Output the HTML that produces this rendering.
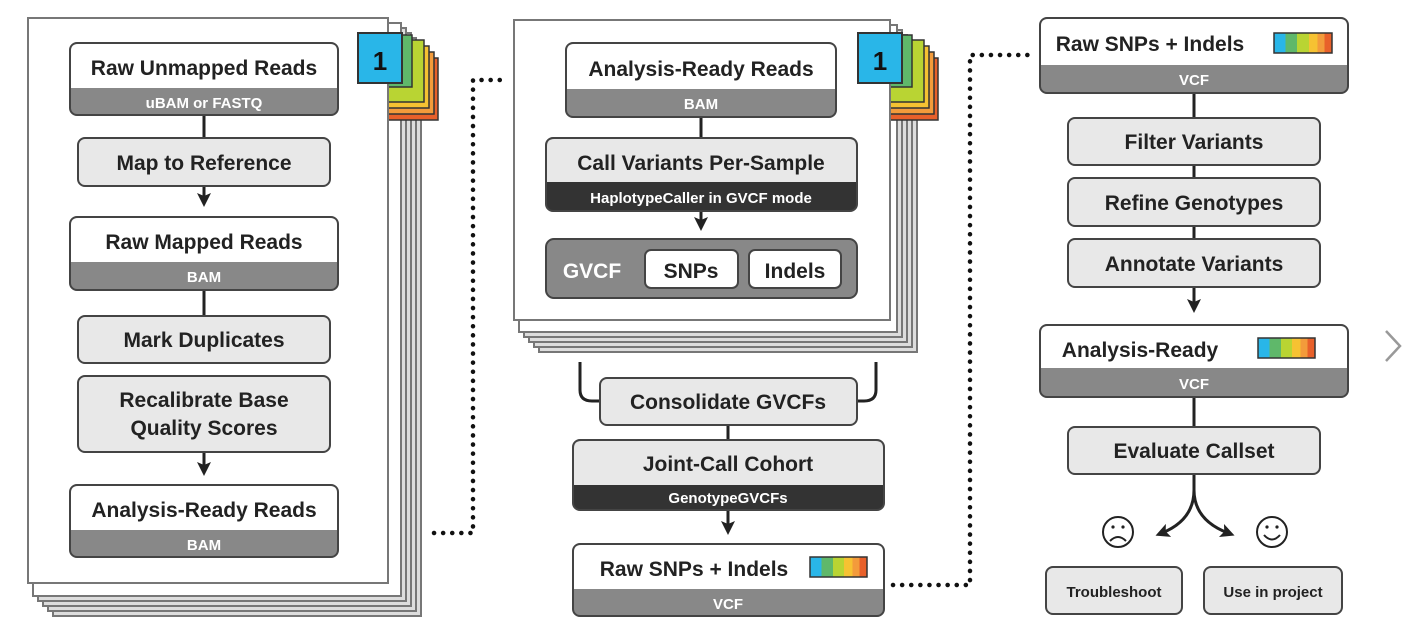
<!DOCTYPE html>
<html><head><meta charset="utf-8"><style>
html,body{margin:0;padding:0;background:#fff;}
svg text{font-family:"Liberation Sans","DejaVu Sans",sans-serif;font-weight:bold;text-anchor:middle;}
</style></head><body>
<svg width="1408" height="625" viewBox="0 0 1408 625" xmlns="http://www.w3.org/2000/svg">
<defs>
<marker id="ah" markerWidth="14" markerHeight="14" refX="7" refY="7" orient="auto" markerUnits="userSpaceOnUse"><path d="M0,0 L14,7 L0,14 L3,7 z" fill="#222"/></marker>
<linearGradient id="rb" x1="0" x2="1" y1="0" y2="0">
<stop offset="0" stop-color="#29b6e8"/><stop offset="0.2" stop-color="#29b6e8"/>
<stop offset="0.2" stop-color="#5fb86a"/><stop offset="0.4" stop-color="#5fb86a"/>
<stop offset="0.4" stop-color="#b9d433"/><stop offset="0.6" stop-color="#b9d433"/>
<stop offset="0.6" stop-color="#f6c232"/><stop offset="0.75" stop-color="#f6c232"/>
<stop offset="0.75" stop-color="#f39b3b"/><stop offset="0.87" stop-color="#f39b3b"/>
<stop offset="0.87" stop-color="#e8602a"/><stop offset="1" stop-color="#e8602a"/>
</linearGradient>
</defs>

<g fill="#fff" stroke="#777" stroke-width="2">
<rect x="53" y="43" width="368" height="573" fill="#ddd"/>
<rect x="48" y="38" width="368" height="573" fill="#ddd"/>
<rect x="43" y="33" width="368" height="573" fill="#ddd"/>
<rect x="38" y="28" width="368" height="573" fill="#ddd"/>
<rect x="33" y="23" width="368" height="573"/>
</g>
<g stroke="#333" stroke-width="1.5">
<rect x="386" y="58" width="52" height="62" fill="#e8602a"/>
<rect x="382" y="52" width="52" height="62" fill="#f39b3b"/>
<rect x="377" y="46" width="52" height="62" fill="#f6c232"/>
<rect x="372" y="40" width="52" height="62" fill="#b9d433"/>
<rect x="366" y="35" width="46" height="52" fill="#5fb86a"/>
</g>
<rect x="28" y="18" width="360" height="565" fill="#fff" stroke="#777" stroke-width="2"/>
<rect x="358" y="33" width="44" height="50" fill="#29b6e8" stroke="#333" stroke-width="2"/>
<text x="380" y="70" font-size="26" fill="#111">1</text>

<g stroke="#777" stroke-width="2" fill="#ddd">
<rect x="539" y="45" width="378" height="307"/>
<rect x="534" y="40" width="378" height="307"/>
<rect x="529" y="35" width="378" height="307"/>
<rect x="524" y="30" width="378" height="307"/>
<rect x="519" y="25" width="378" height="307" fill="#fff"/>
</g>
<g stroke="#333" stroke-width="1.5">
<rect x="886" y="58" width="52" height="62" fill="#e8602a"/>
<rect x="882" y="52" width="52" height="62" fill="#f39b3b"/>
<rect x="877" y="46" width="52" height="62" fill="#f6c232"/>
<rect x="872" y="40" width="52" height="62" fill="#b9d433"/>
<rect x="866" y="35" width="46" height="52" fill="#5fb86a"/>
</g>
<rect x="514" y="20" width="376" height="300" fill="#fff" stroke="#777" stroke-width="2"/>
<rect x="858" y="33" width="44" height="50" fill="#29b6e8" stroke="#333" stroke-width="2"/>
<text x="880" y="70" font-size="26" fill="#111">1</text>

<g stroke="#222" stroke-width="3" fill="none">
<line x1="204" y1="115" x2="204" y2="137"/>
<line x1="204" y1="186" x2="204" y2="200" marker-end="url(#ah)"/>
<line x1="204" y1="290" x2="204" y2="315"/>
<line x1="204" y1="452" x2="204" y2="469" marker-end="url(#ah)"/>
<line x1="701" y1="117" x2="701" y2="138"/>
<line x1="701" y1="211" x2="701" y2="224" marker-end="url(#ah)"/>
<path d="M580,362 V390 Q580,401 592,401 H600"/>
<path d="M876,362 V390 Q876,401 864,401 H857"/>
<line x1="728" y1="425" x2="728" y2="440"/>
<line x1="728" y1="510" x2="728" y2="528" marker-end="url(#ah)"/>
<line x1="1194" y1="93" x2="1194" y2="118"/>
<line x1="1194" y1="165" x2="1194" y2="178"/>
<line x1="1194" y1="226" x2="1194" y2="239"/>
<line x1="1194" y1="287" x2="1194" y2="306" marker-end="url(#ah)"/>
<line x1="1194" y1="397" x2="1194" y2="427"/>
<path d="M1194,474 V490 Q1194,520 1162,533" marker-end="url(#ah)"/>
<path d="M1194,490 Q1194,520 1228,533" marker-end="url(#ah)"/>
</g>
<g stroke="#111" stroke-width="4.5" stroke-linecap="round" stroke-dasharray="0.1 9" fill="none">
<path d="M434,533 H473 V80 H505"/>
<path d="M893,585 H970 V55 H1030"/>
</g>

<g stroke="#444" stroke-width="2">
<rect x="70" y="43" width="268" height="72" rx="7" fill="#888"/>
<path d="M71,88 V51 Q71,44 78,44 H330 Q337,44 337,51 V88 Z" fill="#fff" stroke="none"/>
<rect x="78" y="138" width="252" height="48" rx="7" fill="#e8e8e8"/>
<rect x="70" y="217" width="268" height="73" rx="7" fill="#888"/>
<path d="M71,262 V225 Q71,218 78,218 H330 Q337,218 337,225 V262 Z" fill="#fff" stroke="none"/>
<rect x="78" y="316" width="252" height="47" rx="7" fill="#e8e8e8"/>
<rect x="78" y="376" width="252" height="76" rx="7" fill="#e8e8e8"/>
<rect x="70" y="485" width="268" height="72" rx="7" fill="#888"/>
<path d="M71,530 V493 Q71,486 78,486 H330 Q337,486 337,493 V530 Z" fill="#fff" stroke="none"/>
<rect x="566" y="43" width="270" height="74" rx="7" fill="#888"/>
<path d="M567,89 V51 Q567,44 574,44 H828 Q835,44 835,51 V89 Z" fill="#fff" stroke="none"/>
<rect x="546" y="138" width="311" height="73" rx="7" fill="#333"/>
<path d="M547,182 V146 Q547,139 554,139 H849 Q856,139 856,146 V182 Z" fill="#e8e8e8" stroke="none"/>
<rect x="546" y="239" width="311" height="59" rx="8" fill="#888"/>
<rect x="645" y="250" width="93" height="38" rx="6" fill="#fff"/>
<rect x="749" y="250" width="92" height="38" rx="6" fill="#fff"/>
<rect x="600" y="378" width="257" height="47" rx="7" fill="#e8e8e8"/>
<rect x="573" y="440" width="311" height="70" rx="7" fill="#333"/>
<path d="M574,485 V448 Q574,441 581,441 H876 Q883,441 883,448 V485 Z" fill="#e8e8e8" stroke="none"/>
<rect x="573" y="544" width="311" height="72" rx="7" fill="#888"/>
<path d="M574,589 V552 Q574,545 581,545 H876 Q883,545 883,552 V589 Z" fill="#fff" stroke="none"/>
<rect x="1040" y="18" width="308" height="75" rx="7" fill="#888"/>
<path d="M1041,65 V26 Q1041,19 1048,19 H1340 Q1347,19 1347,26 V65 Z" fill="#fff" stroke="none"/>
<rect x="1068" y="118" width="252" height="47" rx="7" fill="#e8e8e8"/>
<rect x="1068" y="178" width="252" height="48" rx="7" fill="#e8e8e8"/>
<rect x="1068" y="239" width="252" height="48" rx="7" fill="#e8e8e8"/>
<rect x="1040" y="325" width="308" height="72" rx="7" fill="#888"/>
<path d="M1041,368 V333 Q1041,326 1048,326 H1340 Q1347,326 1347,333 V368 Z" fill="#fff" stroke="none"/>
<rect x="1068" y="427" width="252" height="47" rx="7" fill="#e8e8e8"/>
<rect x="1046" y="567" width="136" height="47" rx="7" fill="#e8e8e8"/>
<rect x="1204" y="567" width="138" height="47" rx="7" fill="#e8e8e8"/>
</g>
<rect x="1274" y="33" width="58" height="20" fill="url(#rb)" stroke="#333" stroke-width="1.5"/>
<rect x="810" y="557" width="57" height="20" fill="url(#rb)" stroke="#333" stroke-width="1.5"/>
<rect x="1258" y="338" width="57" height="20" fill="url(#rb)" stroke="#333" stroke-width="1.5"/>

<g font-size="21" fill="#222">
<text x="204" y="75">Raw Unmapped Reads</text>
<text x="204" y="170">Map to Reference</text>
<text x="204" y="249">Raw Mapped Reads</text>
<text x="204" y="347">Mark Duplicates</text>
<text x="204" y="407">Recalibrate Base</text>
<text x="204" y="435">Quality Scores</text>
<text x="204" y="517">Analysis-Ready Reads</text>
<text x="701" y="76">Analysis-Ready Reads</text>
<text x="701" y="170">Call Variants Per-Sample</text>
<text x="691" y="278">SNPs</text>
<text x="795" y="278">Indels</text>
<text x="728" y="409">Consolidate GVCFs</text>
<text x="728" y="471">Joint-Call Cohort</text>
<text x="694" y="576">Raw SNPs + Indels</text>
<text x="1150" y="51">Raw SNPs + Indels</text>
<text x="1194" y="149">Filter Variants</text>
<text x="1194" y="210">Refine Genotypes</text>
<text x="1194" y="271">Annotate Variants</text>
<text x="1140" y="357">Analysis-Ready</text>
<text x="1194" y="458">Evaluate Callset</text>
</g>
<g font-size="15" fill="#fff">
<text x="204" y="108">uBAM or FASTQ</text>
<text x="204" y="282">BAM</text>
<text x="204" y="550">BAM</text>
<text x="701" y="109">BAM</text>
<text x="701" y="203">HaplotypeCaller in GVCF mode</text>
<text x="728" y="503">GenotypeGVCFs</text>
<text x="728" y="609">VCF</text>
<text x="1194" y="85">VCF</text>
<text x="1194" y="389">VCF</text>
</g>
<text x="592" y="278" font-size="21" fill="#fff">GVCF</text>
<g font-size="15" fill="#222">
<text x="1114" y="597">Troubleshoot</text>
<text x="1273" y="597">Use in project</text>
</g>
<g stroke="#222" stroke-width="2" fill="none">
<circle cx="1118" cy="532" r="15"/>
<path d="M1110,541 Q1118,533 1126,541"/>
<circle cx="1272" cy="532" r="15"/>
<path d="M1264,535 Q1272,544 1280,535"/>
</g>
<g fill="#222"><circle cx="1113" cy="527" r="1.6"/><circle cx="1123" cy="527" r="1.6"/><circle cx="1267" cy="527" r="1.6"/><circle cx="1277" cy="527" r="1.6"/></g>
<path d="M1386,331 L1400,346 L1386,361" stroke="#999" stroke-width="2.5" fill="none"/>
</svg>
</body></html>
